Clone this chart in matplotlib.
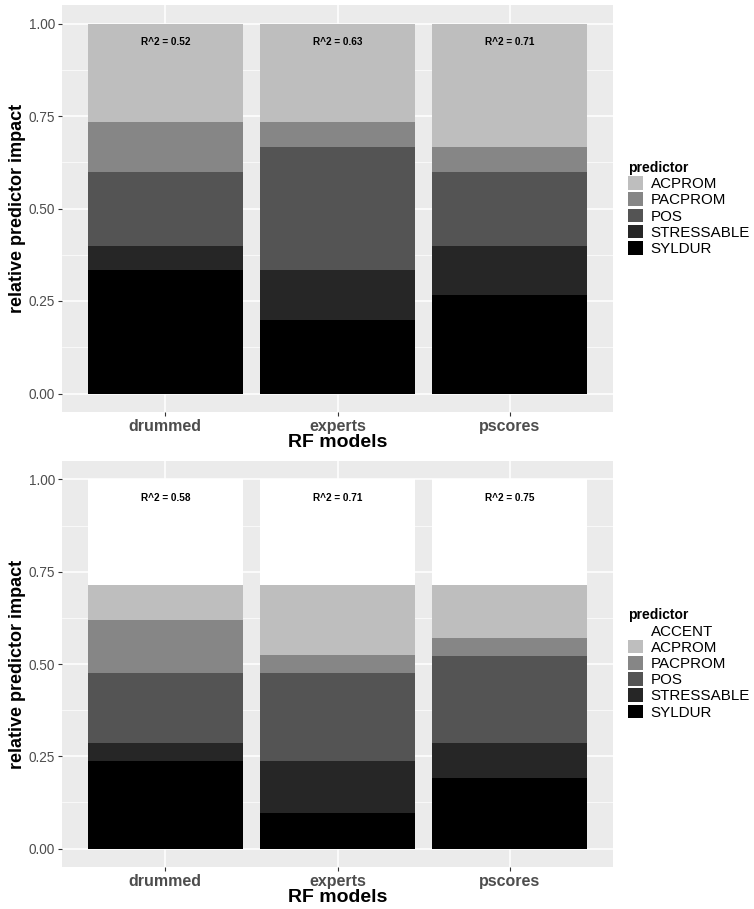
import matplotlib.pyplot as plt
from matplotlib.patches import Patch

plt.rcParams['font.family'] = ['Liberation Sans', 'DejaVu Sans']

# --- DATA ---
models = ['drummed', 'experts', 'pscores']

# top model: five predictors (stacked bottom -> top)
top_predictors = ['SYLDUR', 'STRESSABLE', 'POS', 'PACPROM', 'ACPROM']
top_values = {
    'SYLDUR':     [0.333, 0.200, 0.267],
    'STRESSABLE': [0.067, 0.133, 0.133],
    'POS':        [0.200, 0.333, 0.200],
    'PACPROM':    [0.133, 0.067, 0.067],
    'ACPROM':     [0.267, 0.267, 0.333],
}
top_r2 = [0.52, 0.63, 0.71]

# bottom model: ACCENT added on top
bot_predictors = ['SYLDUR', 'STRESSABLE', 'POS', 'PACPROM', 'ACPROM', 'ACCENT']
bot_values = {
    'SYLDUR':     [0.238, 0.095, 0.190],
    'STRESSABLE': [0.048, 0.143, 0.095],
    'POS':        [0.190, 0.238, 0.238],
    'PACPROM':    [0.143, 0.048, 0.048],
    'ACPROM':     [0.095, 0.190, 0.143],
    'ACCENT':     [0.286, 0.286, 0.286],
}
bot_r2 = [0.58, 0.71, 0.75]

fills = {
    'ACCENT': '#FFFFFF',
    'ACPROM': '#BEBEBE',
    'PACPROM': '#868686',
    'POS': '#545454',
    'STRESSABLE': '#262626',
    'SYLDUR': '#000000',
}

W, H = 754, 909


def draw_panel(ax, predictors, values, r2):
    ax.set_facecolor('#EBEBEB')
    xs = list(range(1, len(models) + 1))
    bottoms = [0.0] * len(models)
    for p in predictors:
        ax.bar(xs, values[p], width=0.9, bottom=bottoms, color=fills[p],
               linewidth=0, zorder=3)
        bottoms = [b + v for b, v in zip(bottoms, values[p])]
    for x, r in zip(xs, r2):
        ax.text(x, 0.95, f'R^2 = {r:.2f}', ha='center', va='center',
                fontsize=7.2, fontweight='bold', color='black', zorder=4)

    ax.set_xlim(0.4, 3.6)
    ax.set_ylim(-0.05, 1.05)
    ax.set_xticks(xs)
    ax.set_xticklabels(models, fontsize=11.5, fontweight='bold', color='#4D4D4D')
    ax.set_yticks([0, 0.25, 0.5, 0.75, 1.0])
    ax.set_yticklabels(['0.00', '0.25', '0.50', '0.75', '1.00'],
                       fontsize=9.8, color='#4D4D4D')
    ax.set_yticks([0.125, 0.375, 0.625, 0.875], minor=True)
    ax.grid(True, which='major', color='white', linewidth=1.1, zorder=0)
    ax.grid(True, which='minor', axis='y', color='white', linewidth=0.5, zorder=0)
    ax.tick_params(axis='both', which='major', length=3, width=0.8,
                   color='#333333', pad=2)
    ax.tick_params(axis='x', pad=2)
    ax.tick_params(which='minor', length=0)
    for s in ax.spines.values():
        s.set_visible(False)
    ax.set_axisbelow(True)
    ax.set_xlabel('RF models', fontsize=14, fontweight='bold', labelpad=0)
    ax.set_ylabel('relative predictor impact', fontsize=13, fontweight='bold',
                  labelpad=2)

    # legend in ggplot order (alphabetical)
    handles = [Patch(facecolor=fills[p], edgecolor='none', label=p)
               for p in sorted(predictors)]
    leg = ax.legend(handles=handles, title='predictor', loc='center left',
                    bbox_to_anchor=(1.0, 0.5), frameon=False, fontsize=10.9,
                    handlelength=1.0, handleheight=1.0, handletextpad=0.5,
                    labelspacing=0.08, borderaxespad=0.6)
    leg.get_title().set_fontweight('bold')
    leg.get_title().set_fontsize(10)
    leg._legend_box.align = 'left'


fig = plt.figure(figsize=(W / 100, H / 100), dpi=100)

ax_top = fig.add_axes([62 / W, (H - 412) / H, 551 / W, 407 / H])
draw_panel(ax_top, top_predictors, top_values, top_r2)

ax_bot = fig.add_axes([62 / W, (H - 867) / H, 551 / W, 406 / H])
draw_panel(ax_bot, bot_predictors, bot_values, bot_r2)

fig.savefig('out.png', dpi=100)
